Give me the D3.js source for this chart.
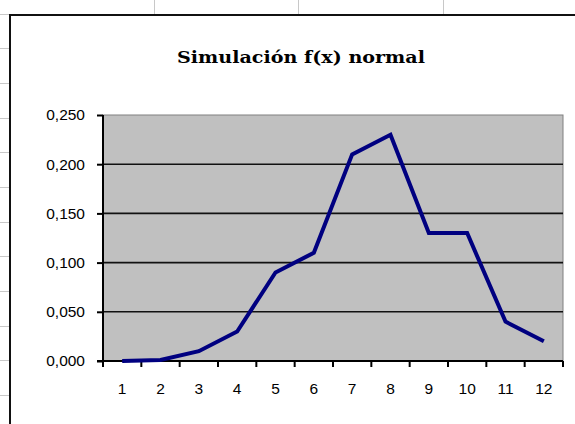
<!DOCTYPE html>
<meta charset="utf-8">
<style>
body { margin: 0; background: #fff; }
svg { display: block; }
</style>
<body>
<script src="https://d3js.org/d3.v7.min.js"></script>
<script>
var categories = [1, 2, 3, 4, 5, 6, 7, 8, 9, 10, 11, 12];
var values = [0.000, 0.001, 0.010, 0.030, 0.090, 0.110, 0.210, 0.230, 0.130, 0.130, 0.040, 0.020];
var yTicks = [0, 0.05, 0.10, 0.15, 0.20, 0.25];
var title = "Simulación f(x) normal";

var width = 575,
	height = 424,
	plot = {left: 103, right: 563, top: 115, bottom: 361};

var svg = d3.select("body").append("svg")
			.attr("width", width)
			.attr("height", height);

// spreadsheet cells behind the chart
var cells = svg.append("g")
				.style("stroke", "#c8c8c8")
				.style("stroke-width", 1);
[154, 298, 443].forEach(function(cx) {
	cells.append("line")
		.attr("x1", cx + 0.5).attr("x2", cx + 0.5)
		.attr("y1", 0).attr("y2", 14);
});
for (var ry = 13.5; ry < height; ry += 34.7) {
	cells.append("line")
		.attr("x1", 0).attr("x2", 9)
		.attr("y1", Math.round(ry) + 0.5).attr("y2", Math.round(ry) + 0.5);
}

// chart box
svg.append("rect")
	.attr("x", 10)
	.attr("y", 15)
	.attr("width", width + 10)
	.attr("height", height + 10)
	.style("fill", "#fff")
	.style("stroke", "#111")
	.style("stroke-width", 2);

svg.append("text")
	.attr("x", 301)
	.attr("y", 63)
	.attr("text-anchor", "middle")
	.attr("textLength", 248)
	.attr("lengthAdjust", "spacingAndGlyphs")
	.style("font-family", "'DejaVu Serif', serif")
	.style("font-weight", "bold")
	.style("font-size", "17px")
	.text(title);

var x = d3.scaleBand()
			.domain(categories)
			.range([plot.left, plot.right]);

var y = d3.scaleLinear()
			.domain([0, 0.25])
			.range([plot.bottom, plot.top]);

svg.append("rect")
	.attr("x", plot.left)
	.attr("y", plot.top)
	.attr("width", plot.right - plot.left)
	.attr("height", plot.bottom - plot.top)
	.style("fill", "#c0c0c0")
	.style("stroke", "#808080")
	.style("stroke-width", 1);

svg.append("g")
	.selectAll("line")
	.data(yTicks.slice(1, -1))
	.join("line")
	.attr("x1", plot.left)
	.attr("x2", plot.right)
	.attr("y1", function(d) { return y(d); })
	.attr("y2", function(d) { return y(d); })
	.style("stroke", "#111")
	.style("stroke-width", 1.6);

var fmt = d3.format(".3f");

var yAxis = svg.append("g")
	.attr("transform", "translate(" + plot.left + ",0)")
	.call(d3.axisLeft(y).tickValues(yTicks).tickSize(6).tickPadding(12)
		.tickFormat(function(d) { return fmt(d).replace(".", ","); }));

var xAxis = svg.append("g")
	.attr("transform", "translate(0," + plot.bottom + ")")
	.call(d3.axisBottom(x).tickSize(0).tickPadding(22));

// excel style ticks sit between categories
xAxis.selectAll(".xtick")
	.data(d3.range(categories.length + 1))
	.join("line")
	.attr("class", "xtick")
	.attr("x1", function(i) { return plot.left + i * x.step(); })
	.attr("x2", function(i) { return plot.left + i * x.step(); })
	.attr("y1", 0)
	.attr("y2", 6)
	.style("stroke", "#000")
	.style("stroke-width", 2);

[yAxis, xAxis].forEach(function(g) {
	g.select(".domain").style("stroke", "#000").style("stroke-width", 2);
	g.selectAll(".tick line").style("stroke", "#000").style("stroke-width", 2);
	g.selectAll("text")
		.style("font-family", "'Liberation Sans', Arial, sans-serif")
		.style("font-size", "15.5px")
		.style("fill", "#000");
});
yAxis.select(".domain").attr("d", "M0," + plot.bottom + "V" + plot.top);
xAxis.select(".domain").attr("d", "M" + (plot.left - 6) + ",0H" + plot.right);

var line = d3.line()
			.x(function(d, i) { return x(categories[i]) + x.bandwidth() / 2; })
			.y(function(d) { return y(d); });

svg.append("path")
	.datum(values)
	.attr("d", line)
	.style("fill", "none")
	.style("stroke", "#000080")
	.style("stroke-width", 4)
	.style("stroke-linejoin", "miter");
</script>
</body>
